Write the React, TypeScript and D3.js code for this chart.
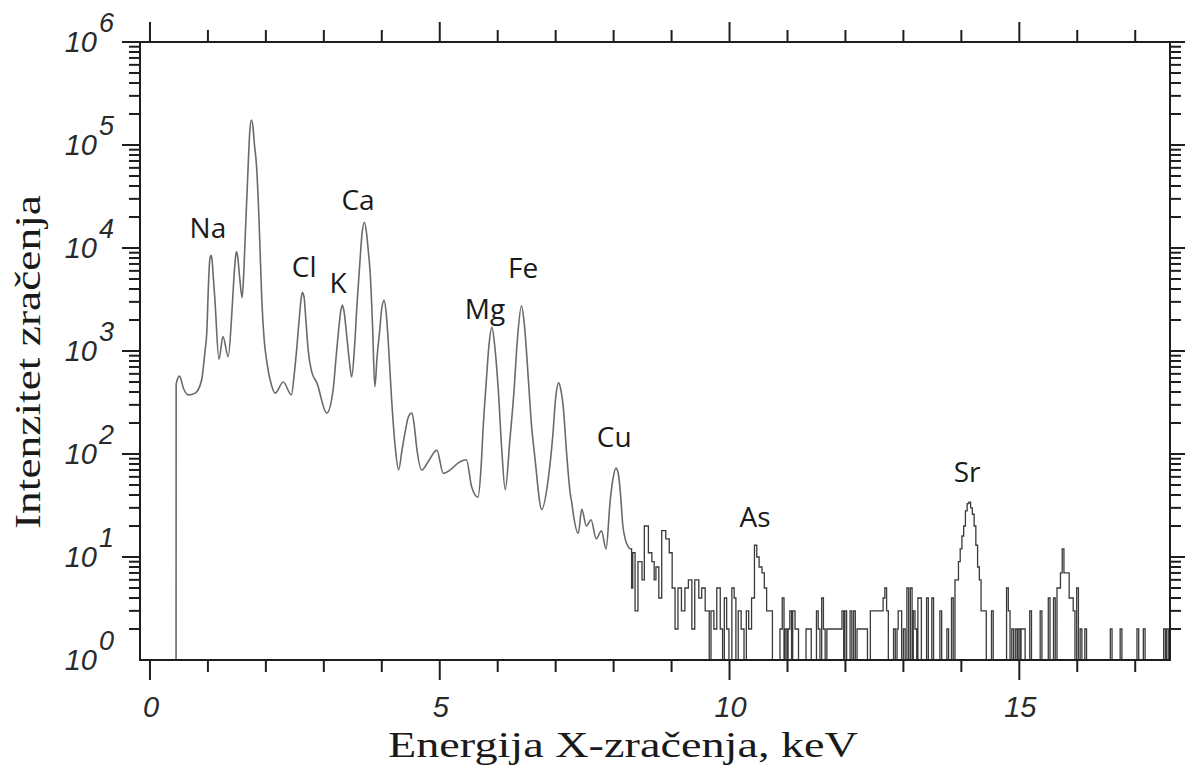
import React from "react";
import * as d3 from "d3";

// ---- Data ----
// Continuous part of the spectrum (energy keV, counts)
const mainE = [0.45, 0.452, 0.51, 0.58, 0.66, 0.78, 0.89, 0.95, 0.98, 1.01, 1.03, 1.05, 1.07, 1.09, 1.12, 1.19, 1.26, 1.35, 1.41, 1.44, 1.47, 1.49, 1.51, 1.55, 1.59, 1.62, 1.65, 1.68, 1.70, 1.72, 1.75, 1.78, 1.80, 1.84, 1.88, 1.93, 1.97, 2.02, 2.09, 2.16, 2.30, 2.44, 2.49, 2.53, 2.58, 2.61, 2.63, 2.66, 2.69, 2.73, 2.79, 2.88, 3.05, 3.16, 3.21, 3.25, 3.29, 3.32, 3.35, 3.39, 3.44, 3.48, 3.53, 3.57, 3.62, 3.66, 3.70, 3.74, 3.77, 3.80, 3.84, 3.88, 3.92, 3.96, 4.00, 4.04, 4.08, 4.11, 4.17, 4.23, 4.29, 4.35, 4.40, 4.46, 4.52, 4.56, 4.60, 4.69, 4.80, 4.95, 5.06, 5.18, 5.32, 5.46, 5.55, 5.66, 5.71, 5.75, 5.80, 5.85, 5.90, 5.95, 6.01, 6.07, 6.13, 6.21, 6.28, 6.34, 6.41, 6.46, 6.53, 6.58, 6.64, 6.76, 6.87, 6.95, 7.00, 7.05, 7.09, 7.13, 7.19, 7.25, 7.28, 7.31, 7.39, 7.45, 7.53, 7.61, 7.70, 7.79, 7.87, 7.94, 7.99, 8.04, 8.08, 8.12, 8.16, 8.20, 8.28];
const mainC = [1, 480, 570, 430, 375, 390, 520, 1000, 1500, 4500, 7500, 8500, 7800, 5500, 3200, 830, 1380, 880, 2200, 4300, 7500, 9200, 8500, 5000, 3300, 6000, 16000, 40000, 75000, 130000, 175000, 145000, 105000, 61000, 20000, 3100, 1300, 760, 480, 390, 500, 375, 600, 1020, 2200, 3300, 3700, 3300, 2000, 1020, 630, 490, 250, 420, 850, 1500, 2400, 2800, 2400, 1500, 800, 560, 1100, 2700, 7000, 14000, 17800, 13500, 9000, 5700, 1800, 450, 900, 1500, 2600, 3100, 2200, 1280, 335, 120, 70, 110, 160, 230, 250, 190, 118, 70, 84, 109, 65, 70, 82, 88, 48, 38, 70, 185, 480, 1150, 1700, 1100, 420, 110, 45, 137, 400, 1300, 2750, 1800, 520, 200, 94, 29, 56, 150, 350, 490, 420, 290, 100, 42, 33, 25, 17, 29, 20, 23, 15, 18, 12, 35, 58, 73, 65, 40, 20, 15, 12];

// Dense stepped region (energy keV, counts) – step-after
const denseE = [8.28, 8.31, 8.33, 8.37, 8.42, 8.49, 8.53, 8.60, 8.66, 8.70, 8.73, 8.78, 8.83, 8.90, 8.96, 9.01, 9.06, 9.11, 9.17, 9.23, 9.29, 9.35, 9.40, 9.47, 9.52, 9.58, 9.65, 9.68, 9.73, 9.78, 9.84, 9.88, 9.91, 9.95, 9.99, 10.04, 10.08, 10.11, 10.15, 10.20, 10.25, 10.29, 10.33, 10.38, 10.43, 10.47, 10.51, 10.56, 10.60, 10.64, 10.70, 10.74];
const denseC = [12, 5, 11, 3, 9, 6, 20, 11, 9, 6, 8, 4, 18, 15, 11, 5, 2, 5, 3, 5, 6, 2, 6, 4, 5, 3, 1, 3, 2, 5, 2, 1, 4, 2, 1, 5, 4, 1, 3, 2, 1, 3, 2, 4, 13, 10, 8, 7, 5, 3, 3, 1];

// Sparse single-channel spikes (energy keV, counts)
const spikeE = [10.87, 10.91, 10.96, 11.01, 11.04, 11.09, 11.13, 11.16, 11.32, 11.35, 11.38, 11.50, 11.53, 11.59, 11.62, 11.68, 11.71, 11.74, 11.78, 11.81, 11.84, 11.87, 11.90, 11.94, 11.99, 12.08, 12.14, 12.20, 12.23, 12.26, 12.29, 12.32, 12.35, 12.43, 12.46, 12.49, 12.52, 12.55, 12.58, 12.61, 12.65, 12.68, 12.71, 12.83, 12.89, 12.91, 12.94, 13.00, 13.06, 13.12, 13.17, 13.20, 13.25, 13.28, 13.40, 13.49, 13.63, 13.75, 13.83, 13.89, 13.92, 13.95, 13.98, 14.01, 14.04, 14.07, 14.10, 14.13, 14.16, 14.19, 14.22, 14.25, 14.28, 14.31, 14.34, 14.37, 14.40, 14.52, 14.78, 14.81, 14.87, 14.93, 14.98, 15.03, 15.07, 15.18, 15.36, 15.50, 15.59, 15.65, 15.68, 15.71, 15.74, 15.77, 15.80, 15.83, 15.86, 15.90, 15.93, 15.99, 16.05, 16.13, 16.57, 16.74, 17.03, 17.14, 17.49, 17.54];
const spikeC = [2, 4, 2, 2, 3, 3, 2, 2, 2, 2, 2, 3, 2, 4, 2, 2, 2, 2, 2, 2, 2, 2, 2, 3, 3, 3, 3, 2, 2, 2, 2, 2, 2, 3, 3, 3, 3, 3, 3, 3, 4, 5, 3, 2, 2, 3, 3, 2, 5, 5, 3, 2, 4, 4, 4, 4, 3, 2, 4, 6, 6, 9, 12, 16, 20, 28, 33, 34, 30, 26, 20, 13, 8, 6, 3, 3, 3, 3, 5, 3, 2, 2, 2, 2, 2, 3, 3, 4, 4, 5, 5, 7, 12, 7, 7, 7, 4, 4, 3, 5, 2, 2, 2, 2, 2, 2, 2, 2];

// Element labels: label anchor position in data units (energy keV, counts at text baseline)
const elementNames = ["Na", "Cl", "K", "Ca", "Mg", "Fe", "Cu", "As", "Sr"];
const elementE = [1.0, 2.66, 3.245, 3.59, 5.78, 6.44, 8.01, 10.44, 14.1];
const elementC = [12500, 5200, 3650, 23400, 2050, 5100, 117, 19.5, 53];

const xTicksMajor = [0, 5, 10, 15];
const yDecades = [0, 1, 2, 3, 4, 5, 6];

const W = 1186;
const H = 769;
const L = 140, R = 1170, T = 42, B = 660;

export default function App() {
  const x = d3.scaleLinear().domain([-0.172, 17.6]).range([L, R]);
  const y = d3.scaleLog().domain([1, 1e6]).range([B, T]);

  const mainPts: [number, number][] = mainE.map((e, i) => [e, mainC[i]]);
  const densePts: [number, number][] = denseE.map((e, i) => [e, denseC[i]]);
  const spikePts: [number, number][] = [];
  const w = 0.03;
  spikeE.forEach((e, i) => {
    spikePts.push([e, spikeC[i]]);
    const next = spikeE[i + 1];
    if (next === undefined || next - e > w + 0.015) spikePts.push([e + w, 1]);
  });
  spikePts.push([17.6, 1]);
  const tailPts = [...densePts, ...spikePts];

  const lineMain = d3
    .line<[number, number]>()
    .x((d) => x(d[0]))
    .y((d) => y(Math.max(1, d[1])))
    .curve(d3.curveMonotoneX);
  const lineStep = d3
    .line<[number, number]>()
    .x((d) => x(d[0]))
    .y((d) => y(Math.max(1, d[1])))
    .curve(d3.curveStepAfter);

  const minorX = d3.range(0, 18).filter((v) => v % 5 !== 0);
  const minorY: number[] = [];
  for (let dcd = 0; dcd < 6; dcd++) {
    for (let m = 2; m <= 9; m++) minorY.push(m * Math.pow(10, dcd));
  }

  const tickFont = "'Liberation Sans', Arial, sans-serif";
  const labelFont = "'Open Sans', 'Noto Sans', sans-serif";

  return (
    <svg
      width={W}
      height={H}
      viewBox={`0 0 ${W} ${H}`}
      style={{ position: "absolute", left: 0, top: 0, background: "#fff" }}
    >
      {/* spectrum */}
      <path d={lineMain(mainPts) || ""} fill="none" stroke="#6a6a6a" strokeWidth={1.6} />
      <path d={lineStep(tailPts) || ""} fill="none" stroke="#3a3a3a" strokeWidth={1.3} />

      {/* frame */}
      <rect x={L} y={T} width={R - L} height={B - T} fill="none" stroke="#1e1e1e" strokeWidth={2} />

      {/* x ticks top & bottom */}
      {xTicksMajor.map((v) => (
        <g key={"xm" + v}>
          <line x1={x(v)} x2={x(v)} y1={B} y2={B + 20} stroke="#1e1e1e" strokeWidth={2} />
          <line x1={x(v)} x2={x(v)} y1={T} y2={T - 20} stroke="#1e1e1e" strokeWidth={2} />
          <text
            x={x(v) + 1}
            y={717}
            textAnchor="middle"
            fontFamily={tickFont}
            fontStyle="italic"
            fontSize={29}
            fill="#2a2a2a"
          >
            {v}
          </text>
        </g>
      ))}
      {minorX.map((v) => (
        <g key={"xn" + v}>
          <line x1={x(v)} x2={x(v)} y1={B} y2={B + 12} stroke="#1e1e1e" strokeWidth={2} />
          <line x1={x(v)} x2={x(v)} y1={T} y2={T - 12} stroke="#1e1e1e" strokeWidth={2} />
        </g>
      ))}

      {/* y ticks left & right */}
      {yDecades.map((dcd) => {
        const v = Math.pow(10, dcd);
        const yy = y(v);
        return (
          <g key={"yd" + dcd}>
            {dcd > 0 && (
              <>
                <line x1={L} x2={L - 18} y1={yy} y2={yy} stroke="#1e1e1e" strokeWidth={2} />
                <line x1={R} x2={R + 15} y1={yy} y2={yy} stroke="#1e1e1e" strokeWidth={2} />
              </>
            )}
            <text
              x={97}
              y={yy + 10}
              textAnchor="end"
              fontFamily={tickFont}
              fontStyle="italic"
              fontSize={29}
              fill="#2a2a2a"
            >
              10
            </text>
            <text
              x={99}
              y={yy - 10}
              textAnchor="start"
              fontFamily={tickFont}
              fontStyle="italic"
              fontSize={27}
              fill="#2a2a2a"
            >
              {dcd}
            </text>
          </g>
        );
      })}
      {minorY.map((v, i) => (
        <g key={"yn" + i}>
          <line x1={L} x2={L - 11} y1={y(v)} y2={y(v)} stroke="#1e1e1e" strokeWidth={2} />
          <line x1={R} x2={R + 11} y1={y(v)} y2={y(v)} stroke="#1e1e1e" strokeWidth={2} />
        </g>
      ))}

      {/* element labels */}
      {elementNames.map((n, i) => (
        <text
          key={n}
          x={x(elementE[i])}
          y={y(elementC[i])}
          textAnchor="middle"
          fontFamily={labelFont}
          fontSize={28}
          fill="#1a1a1a"
        >
          {n}
        </text>
      ))}

      {/* axis titles */}
      <text
        x={623}
        y={757}
        textAnchor="middle"
        fontFamily="'Liberation Serif', 'Times New Roman', serif"
        fontSize={36}
        textLength={470}
        lengthAdjust="spacingAndGlyphs"
        fill="#1a1a1a"
      >
        Energija X-zračenja, keV
      </text>
      <text
        transform={`translate(40, 362) rotate(-90)`}
        textAnchor="middle"
        fontFamily="'Liberation Serif', 'Times New Roman', serif"
        fontSize={36}
        textLength={334}
        lengthAdjust="spacingAndGlyphs"
        fill="#1a1a1a"
      >
        Intenzitet zračenja
      </text>
    </svg>
  );
}
